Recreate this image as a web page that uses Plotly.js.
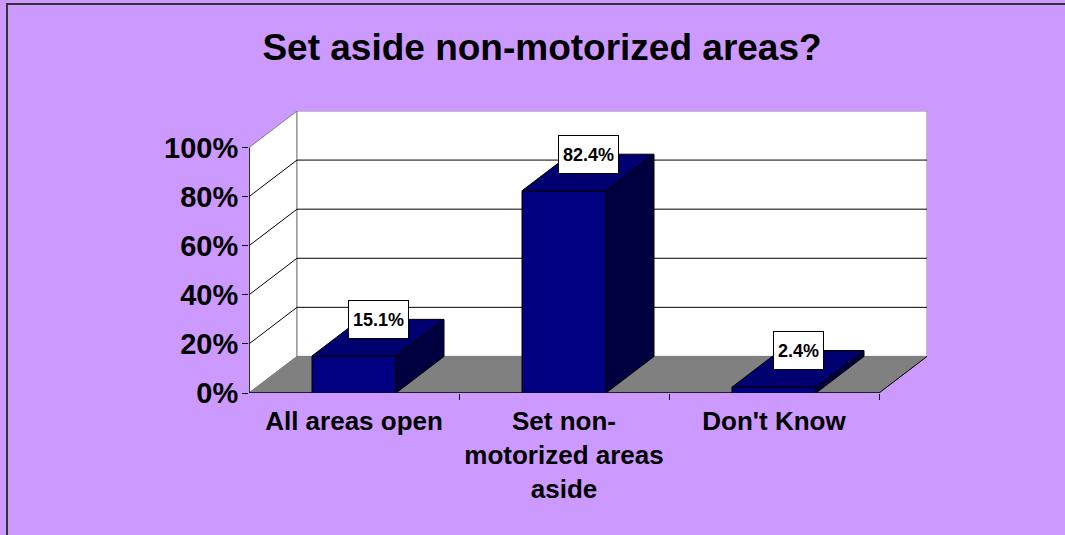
<!DOCTYPE html>
<html>
<head>
<meta charset="utf-8">
<script src="https://cdn.plot.ly/plotly-3.0.1.min.js"></script>
<style>
html,body{margin:0;padding:0;background:#CC99FF;overflow:hidden;}
#wrap{position:relative;width:1065px;height:535px;overflow:hidden;}
#chart{width:1065px;height:535px;}
#frame{position:absolute;left:6px;top:3px;width:1100px;height:600px;border-top:2px solid #333333;border-left:2px solid #333333;pointer-events:none;}
</style>
</head>
<body>
<div id="wrap"><div id="chart"></div><div id="frame"></div></div>
<script>
// ---- data ----
const categories = ['All areas open', 'Set non-<br>motorized areas<br>aside', "Don't Know"];
const values = [15.1, 82.4, 2.4];
const valueLabels = ['15.1%', '82.4%', '2.4%'];
const yTickVals = [0, 20, 40, 60, 80, 100];
const yTickText = ['0%', '20%', '40%', '60%', '80%', '100%'];
const chartTitle = 'Set aside non-motorized areas?';

// ---- geometry / style ----
const W = 1065, H = 535;
const ML = 249, MR = 138, MT = 111, MB = 142;
const D = 48 / 210;        // depth offset in category units
const E = 14.9;            // depth offset in % units
const HW = 0.2;            // half bar width
const xIdx = categories.map((c, i) => i);
const XR = [-0.5, 2.5 + D];
const YR = [0, 100 + E];
const FONT = 'Liberation Sans, Arial, sans-serif';

// side & top faces of each bar built from the values
const topX = [], topY = [], sideX = [], sideY = [];
xIdx.forEach((i, k) => {
  const v = values[k];
  topX.push(i - HW, i + HW, i + HW + D, i - HW + D, i - HW, null);
  topY.push(v, v, v + E, v + E, v, null);
  sideX.push(i + HW, i + HW, i + HW + D, i + HW + D, i + HW, null);
  sideY.push(0, v, v + E, E, 0, null);
});

const traces = [
  { type: 'bar', x: xIdx, y: values, width: 2 * HW,
    marker: { color: '#000080', line: { color: '#000000', width: 1 } },
    hoverinfo: 'skip', showlegend: false },
  { type: 'scatter', mode: 'lines', x: topX, y: topY, fill: 'toself',
    fillcolor: '#000070', line: { color: '#000000', width: 1 },
    hoverinfo: 'skip', showlegend: false, cliponaxis: false },
  { type: 'scatter', mode: 'lines', x: sideX, y: sideY, fill: 'toself',
    fillcolor: '#000040', line: { color: '#000000', width: 1 },
    hoverinfo: 'skip', showlegend: false, cliponaxis: false },
  // invisible trace on second x axis for the category tick marks
  { type: 'scatter', mode: 'markers', x: [0], y: [0], xaxis: 'x2',
    marker: { opacity: 0 }, hoverinfo: 'skip', showlegend: false }
];

const shapes = [];
const x0 = XR[0], x1 = 2.5;
// left wall
shapes.push({ type: 'path', xref: 'x', yref: 'y', layer: 'below',
  path: `M ${x0},0 L ${x0},100 L ${x0 + D},${100 + E} L ${x0 + D},${E} Z`,
  fillcolor: '#FFFFFF', line: { color: '#808080', width: 1 } });
// back wall
shapes.push({ type: 'rect', xref: 'x', yref: 'y', layer: 'below',
  x0: x0 + D, x1: x1 + D, y0: E, y1: 100 + E,
  fillcolor: '#FFFFFF', line: { color: '#808080', width: 1 } });
// floor
shapes.push({ type: 'path', xref: 'x', yref: 'y', layer: 'below',
  path: `M ${x0},0 L ${x1},0 L ${x1 + D},${E} L ${x0 + D},${E} Z`,
  fillcolor: '#808080', line: { color: '#808080', width: 1 } });
// floor front and right edges
shapes.push({ type: 'line', xref: 'x', yref: 'y', layer: 'below',
  x0: x0, y0: 0, x1: x1, y1: 0, line: { color: '#000000', width: 1.5 } });
shapes.push({ type: 'line', xref: 'x', yref: 'y', layer: 'below',
  x0: x1, y0: 0, x1: x1 + D, y1: E, line: { color: '#000000', width: 1 } });
// gridlines
yTickVals.filter(v => v > 0 && v < 100).forEach(v => {
  shapes.push({ type: 'line', xref: 'x', yref: 'y', layer: 'below',
    x0: x0, y0: v, x1: x0 + D, y1: v + E, line: { color: '#000000', width: 1 } });
  shapes.push({ type: 'line', xref: 'x', yref: 'y', layer: 'below',
    x0: x0 + D, y0: v + E, x1: x1 + D, y1: v + E, line: { color: '#000000', width: 1 } });
});
// front value axis line
shapes.push({ type: 'line', xref: 'x', yref: 'y', layer: 'above',
  x0: x0, y0: 0, x1: x0, y1: 100, line: { color: '#000000', width: 1.5 } });

const annotations = xIdx.map((i, k) => ({
  x: i + D / 2, y: values[k] + E, xref: 'x', yref: 'y',
  text: valueLabels[k], showarrow: false,
  font: { family: FONT, size: 18, color: '#000000', weight: 'bold' },
  bgcolor: '#FFFFFF', bordercolor: '#000000', borderwidth: 1, borderpad: 4,
  height: 29, xanchor: 'center', yanchor: 'middle'
}));

const layout = {
  width: W, height: H,
  margin: { l: ML, r: MR, t: MT, b: MB, pad: 0 },
  paper_bgcolor: '#CC99FF', plot_bgcolor: 'rgba(0,0,0,0)',
  font: { family: FONT, color: '#000000' },
  title: { text: '<b>' + chartTitle + '</b>', font: { family: FONT, size: 37, color: '#000000' },
    xref: 'container', yref: 'container', x: 542 / W, y: 1 - 47 / H,
    xanchor: 'center', yanchor: 'middle' },
  showlegend: false,
  bargap: 0,
  xaxis: { range: XR, tickvals: xIdx, ticktext: categories.map(c => '<b>' + c + '</b>'),
    ticks: '', showgrid: false, zeroline: false, showline: false,
    tickfont: { family: FONT, size: 26, color: '#000000' }, ticklabelstandoff: 10,
    fixedrange: true },
  xaxis2: { range: XR, overlaying: 'x', anchor: 'y', side: 'bottom',
    tickvals: [0.5, 1.5, 2.5], ticks: 'outside', ticklen: 6, tickwidth: 1, tickcolor: '#000000',
    showticklabels: false, showgrid: false, zeroline: false, showline: false },
  yaxis: { range: YR, tickvals: yTickVals, ticktext: yTickText.map(t => '<b>' + t + '</b>'),
    ticks: 'outside', ticklen: 6, tickwidth: 1, tickcolor: '#000000',
    showgrid: false, zeroline: false, showline: false,
    tickfont: { family: FONT, size: 29, color: '#000000' }, ticklabelstandoff: -2,
    fixedrange: true },
  shapes: shapes,
  annotations: annotations
};

Plotly.newPlot('chart', traces, layout, { displayModeBar: false, staticPlot: true });
</script>
</body>
</html>
